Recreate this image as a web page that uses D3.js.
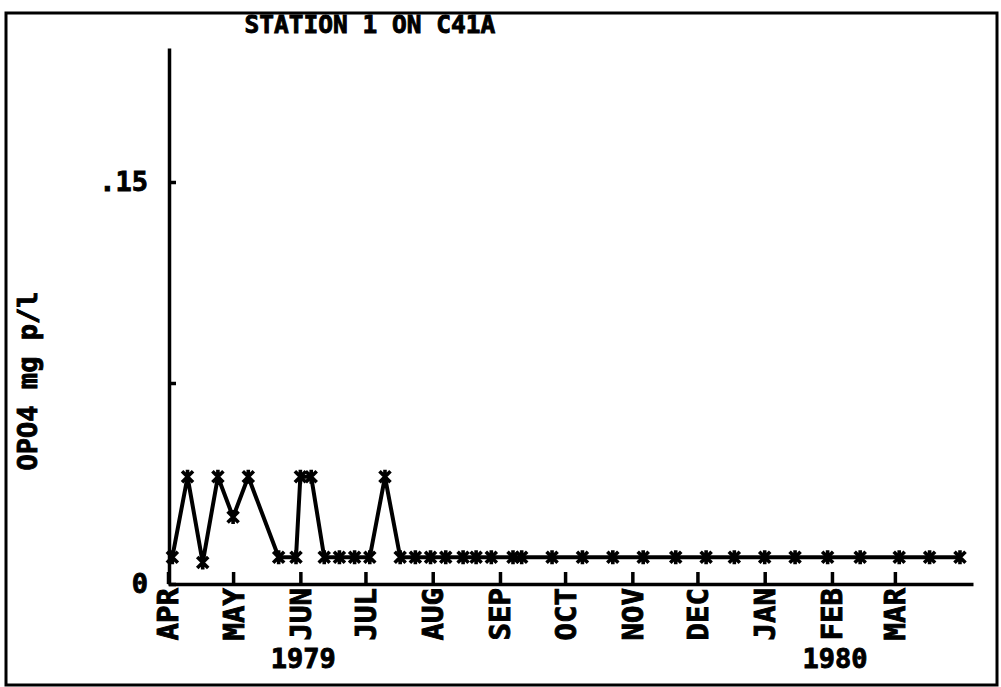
<!DOCTYPE html>
<html>
<head>
<meta charset="utf-8">
<script src="https://cdn.jsdelivr.net/npm/d3@7"></script>
<style>
  html, body { margin: 0; padding: 0; background: #fff; }
  svg { display: block; }
  text { font-family: "DejaVu Sans Mono", "Liberation Mono", monospace; font-weight: bold; fill: #000; stroke: #000; stroke-width: 0.9px; }
</style>
</head>
<body>
<svg id="chart" width="1001" height="687"></svg>
<script>
// Orthophosphate samples, station 1 on C41A, April 1979 - March 1980
const sampleDates = [
  "1979-04-03", "1979-04-10", "1979-04-17", "1979-04-24", "1979-05-01", "1979-05-08",
  "1979-05-22", "1979-05-30", "1979-06-01", "1979-06-06", "1979-06-12", "1979-06-19",
  "1979-06-26", "1979-07-03", "1979-07-10", "1979-07-17", "1979-07-24", "1979-07-31",
  "1979-08-07", "1979-08-15", "1979-08-21", "1979-08-28", "1979-09-07", "1979-09-11",
  "1979-09-25", "1979-10-09", "1979-10-23", "1979-11-06", "1979-11-21", "1979-12-05",
  "1979-12-18", "1980-01-01", "1980-01-15", "1980-01-30", "1980-02-14", "1980-03-03",
  "1980-03-17", "1980-03-31"
];
const opo4Values = [
  0.01, 0.04, 0.008, 0.04, 0.025, 0.04,
  0.01, 0.01, 0.04, 0.04, 0.01, 0.01,
  0.01, 0.01, 0.04, 0.01, 0.01, 0.01,
  0.01, 0.01, 0.01, 0.01, 0.01, 0.01,
  0.01, 0.01, 0.01, 0.01, 0.01, 0.01,
  0.01, 0.01, 0.01, 0.01, 0.01, 0.01,
  0.01, 0.01
];
const monthLabels = ["APR", "MAY", "JUN", "JUL", "AUG", "SEP", "OCT", "NOV", "DEC", "JAN", "FEB", "MAR"];
const yearLabels = ["1979", "1980"];
const yearLabelMonths = ["1979-06-01", "1980-02-01"];
const yTickValues = [0, 0.075, 0.15];
const yTickLabels = ["0", "", ".15"];
const titleText = "STATION 1 ON C41A";
const yTitle = "OPO4 mg p/l";

const parse = d3.utcParse("%Y-%m-%d");
const data = sampleDates.map((d, i) => ({ date: parse(d), value: opo4Values[i] }));

const svg = d3.select("#chart");

// page frame
svg.append("rect")
  .attr("x", 6).attr("y", 13).attr("width", 991).attr("height", 672)
  .attr("fill", "none").attr("stroke", "#000").attr("stroke-width", 3);

const x = d3.scaleUtc()
  .domain([parse("1979-04-01"), parse("1980-04-06")])
  .range([168, 973]);
const y = d3.scaleLinear()
  .domain([0, 0.2])
  .range([584, 48]);

const monthStarts = d3.utcMonth.range(parse("1979-04-01"), parse("1980-04-01"));

// x axis: ticks point up into the plot
const xAxis = svg.append("g")
  .attr("transform", `translate(0,${y(0)})`)
  .call(d3.axisBottom(x)
    .tickValues(monthStarts)
    .tickSizeInner(-12)
    .tickSizeOuter(0)
    .tickFormat(""));
xAxis.select(".domain").attr("stroke", "#000").attr("stroke-width", 3.5);
xAxis.selectAll(".tick line").attr("stroke", "#000").attr("stroke-width", 3.5);

// rotated month names under the ticks
svg.append("g").selectAll("text")
  .data(monthStarts)
  .join("text")
  .attr("transform", d => `translate(${x(d)},588) rotate(-90)`)
  .attr("dy", "0.36em")
  .attr("text-anchor", "end")
  .attr("font-size", 29)
  .text((d, i) => monthLabels[i]);

svg.append("g").selectAll("text")
  .data(yearLabels)
  .join("text")
  .attr("x", (d, i) => x(parse(yearLabelMonths[i])) + 3)
  .attr("y", 668)
  .attr("text-anchor", "middle")
  .attr("font-size", 27)
  .text(d => d);

// y axis: ticks point right into the plot
const yAxis = svg.append("g")
  .attr("transform", `translate(169,0)`)
  .call(d3.axisLeft(y)
    .tickValues(yTickValues)
    .tickSizeInner(-7)
    .tickSizeOuter(0)
    .tickPadding(21)
    .tickFormat((d, i) => yTickLabels[i]));
yAxis.select(".domain").attr("stroke", "#000").attr("stroke-width", 3.5);
yAxis.selectAll(".tick line").attr("stroke", "#000").attr("stroke-width", 3.5);
yAxis.selectAll(".tick text")
  .attr("font-size", 27)
  .attr("font-family", "DejaVu Sans Mono")
  .attr("font-weight", "bold")
  .attr("fill", "#000")
  .attr("stroke", "#000")
  .attr("stroke-width", 0.9);

svg.append("text")
  .attr("transform", "translate(37,381) rotate(-90)")
  .attr("text-anchor", "middle")
  .attr("font-size", 27)
  .text(yTitle);

svg.append("text")
  .attr("x", 370).attr("y", 33)
  .attr("text-anchor", "middle")
  .attr("font-size", 24.5)
  .text(titleText);

// series line
const line = d3.line().x(d => x(d.date)).y(d => y(d.value));
svg.append("path")
  .datum(data)
  .attr("d", line)
  .attr("fill", "none")
  .attr("stroke", "#000")
  .attr("stroke-width", 4)
  .attr("stroke-linejoin", "round");

// asterisk markers
const star = "M0,-7L0,7M-5.5,-5.5L5.5,5.5M-5.5,5.5L5.5,-5.5";
svg.append("g").selectAll("path")
  .data(data)
  .join("path")
  .attr("transform", d => `translate(${x(d.date)},${y(d.value)})`)
  .attr("d", star)
  .attr("fill", "none")
  .attr("stroke", "#000")
  .attr("stroke-width", 3.6);
</script>
</body>
</html>
